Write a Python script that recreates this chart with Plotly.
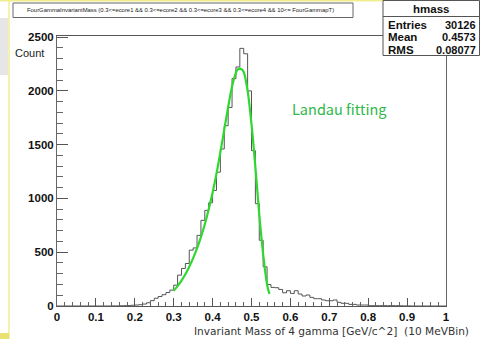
import plotly.graph_objects as go

# ---------------- data ----------------
bin_edges = [round(i * 0.01, 2) for i in range(101)]
counts = [0]*14 + [1, 1, 2, 3, 4, 7, 9, 12, 18, 30, 50, 72, 88, 105, 125,
          148, 194, 287, 349, 395, 519, 540, 657, 796, 889, 960, 1074, 1244, 1460, 1676, 1846,
          2114, 2222, 2395, 2345, 2000, 1444, 951, 611, 364, 200,
          173, 170, 154, 123, 142, 117, 142, 111, 93, 102, 80, 68, 68, 56, 49, 49, 56, 34, 25, 25,
          15, 15, 9, 9, 9, 3, 3, 3, 3, 3, 3, 3, 3, 2, 1, 1] + [0]*9

fit_x = [0.300, 0.310, 0.320, 0.330, 0.340, 0.350, 0.360, 0.370, 0.380, 0.390, 0.400,
         0.410, 0.420, 0.430, 0.440, 0.450, 0.460, 0.465, 0.470, 0.475, 0.480, 0.490,
         0.500, 0.510, 0.520, 0.530, 0.540, 0.546]
fit_y = [142, 185, 235, 295, 365, 445, 535, 640, 760, 900, 1055,
         1230, 1430, 1640, 1850, 2040, 2170, 2200, 2207, 2200, 2175, 2000,
         1690, 1290, 850, 480, 200, 111]

title_text = "FourGammaInvariantMass (0.3<=ecore1 && 0.3<=ecore2 && 0.3<=ecore3 && 0.3<=ecore4 && 10<= FourGammapT)"
stats_name = "hmass"
stats_labels = ["Entries", "Mean", "RMS"]
stats_values = ["30126", "0.4573", "0.08077"]
x_title = "Invariant Mass of 4 gamma [GeV/c^2]  (10 MeVBin)"
y_title = "Count"
fit_label = "Landau fitting"

# ---------------- layout geometry (pixels) ----------------
W_, H_ = 480, 339
L, R, T, B = 57, 446, 36, 306
PW, PH = R - L, B - T


def xp(px):
    return (px - L) / PW


def yp(py):
    return (B - py) / PH


fig = go.Figure()

# histogram outline (step)
fig.add_trace(go.Scatter(
    x=bin_edges, y=counts + [counts[-1]], mode="lines", line_shape="hv",
    line=dict(color="#555555", width=1), hoverinfo="skip", showlegend=False))

# fit curve
fig.add_trace(go.Scatter(
    x=fit_x, y=fit_y, mode="lines", line_shape="spline",
    line=dict(color="#2fd82f", width=2.2), hoverinfo="skip", showlegend=False))

tickfont = dict(family="Liberation Sans, Arial", size=11.5, color="#111111", weight="bold")

fig.update_layout(
    width=W_, height=H_,
    margin=dict(l=L, r=W_ - R, t=T, b=H_ - B, pad=0),
    paper_bgcolor="white", plot_bgcolor="white",
    showlegend=False,
    xaxis=dict(range=[0, 1], dtick=0.1, tick0=0, showgrid=False, zeroline=False,
               showline=True, linecolor="#555555", linewidth=1, mirror=True,
               ticks="inside", ticklen=8, tickcolor="#555555", tickwidth=1,
               minor=dict(dtick=0.02, ticks="inside", ticklen=4, tickcolor="#666666"),
               tickfont=tickfont, fixedrange=True),
    yaxis=dict(range=[0, 2510], dtick=500, tick0=0, showgrid=False, zeroline=False,
               showline=True, linecolor="#666666", linewidth=1, mirror=True,
               ticks="inside", ticklen=11, tickcolor="#555555", tickwidth=1,
               minor=dict(dtick=100, ticks="inside", ticklen=6, tickcolor="#666666"),
               tickfont=tickfont, fixedrange=True),
)

shapes = []
# slide decoration on the left / top
shapes.append(dict(type="rect", xref="paper", yref="paper", x0=xp(0), x1=xp(8), y0=yp(75), y1=yp(18),
                   fillcolor="#e6e6e6", line=dict(width=0), layer="below"))
shapes.append(dict(type="line", xref="paper", yref="paper", x0=xp(9), x1=xp(9), y0=yp(339), y1=yp(0),
                   line=dict(color="#f2ee90", width=1.5)))
shapes.append(dict(type="line", xref="paper", yref="paper", x0=xp(0), x1=xp(383), y0=yp(0.7), y1=yp(0.7),
                   line=dict(color="#f2ee90", width=1.5)))
shapes.append(dict(type="rect", xref="paper", yref="paper", x0=xp(0), x1=xp(9), y0=yp(339), y1=yp(333),
                   fillcolor="#e8e070", line=dict(width=0)))
# title box
shapes.append(dict(type="rect", xref="paper", yref="paper", x0=xp(13), x1=xp(353), y0=yp(17.5), y1=yp(3),
                   fillcolor="white", line=dict(color="#666666", width=1)))
# stats box
shapes.append(dict(type="rect", xref="paper", yref="paper", x0=xp(383), x1=xp(479.5), y0=yp(55.5), y1=yp(0.5),
                   fillcolor="white", line=dict(color="#555555", width=1)))
shapes.append(dict(type="line", xref="paper", yref="paper", x0=xp(383), x1=xp(479.5), y0=yp(16.5), y1=yp(16.5),
                   line=dict(color="#555555", width=1)))
fig.update_layout(shapes=shapes)

ann = []
ann.append(dict(x=xp(25), y=yp(10.3), xref="paper", yref="paper", text=title_text, showarrow=False,
                xanchor="left", yanchor="middle",
                font=dict(family="Liberation Sans, Arial", size=5.9, color="#222222")))
ann.append(dict(x=xp(431), y=yp(8.8), xref="paper", yref="paper", text=stats_name, showarrow=False,
                xanchor="center", yanchor="middle",
                font=dict(family="Liberation Sans, Arial", size=11.5, color="#111111", weight="bold")))
rows_y = [24.5, 37.0, 49.5]
for lab, val, ry in zip(stats_labels, stats_values, rows_y):
    ann.append(dict(x=xp(385.5), y=yp(ry), xref="paper", yref="paper", text=lab, showarrow=False,
                    xanchor="left", yanchor="middle",
                    font=dict(family="Liberation Sans, Arial", size=11.5, color="#111111", weight="bold")))
    ann.append(dict(x=xp(478), y=yp(ry), xref="paper", yref="paper", text=val, showarrow=False,
                    xanchor="right", yanchor="middle",
                    font=dict(family="Liberation Sans, Arial", size=11, color="#111111", weight="bold")))
ann.append(dict(x=xp(13), y=yp(52.7), xref="paper", yref="paper", text=y_title, showarrow=False,
                xanchor="left", yanchor="middle",
                font=dict(family="Liberation Sans, Arial", size=11, color="#222222")))
ann.append(dict(x=xp(471), y=yp(331.0), xref="paper", yref="paper", text=x_title, showarrow=False,
                xanchor="right", yanchor="middle",
                font=dict(family="DejaVu Sans", size=10.6, color="#333333")))
ann.append(dict(x=xp(290), y=yp(108), xref="paper", yref="paper", text=fit_label, showarrow=False,
                xanchor="left", yanchor="middle",
                font=dict(family="Noto Sans CJK JP", size=14.5, color="#30b84a")))
fig.update_layout(annotations=ann)

fig.write_html("out.html")
